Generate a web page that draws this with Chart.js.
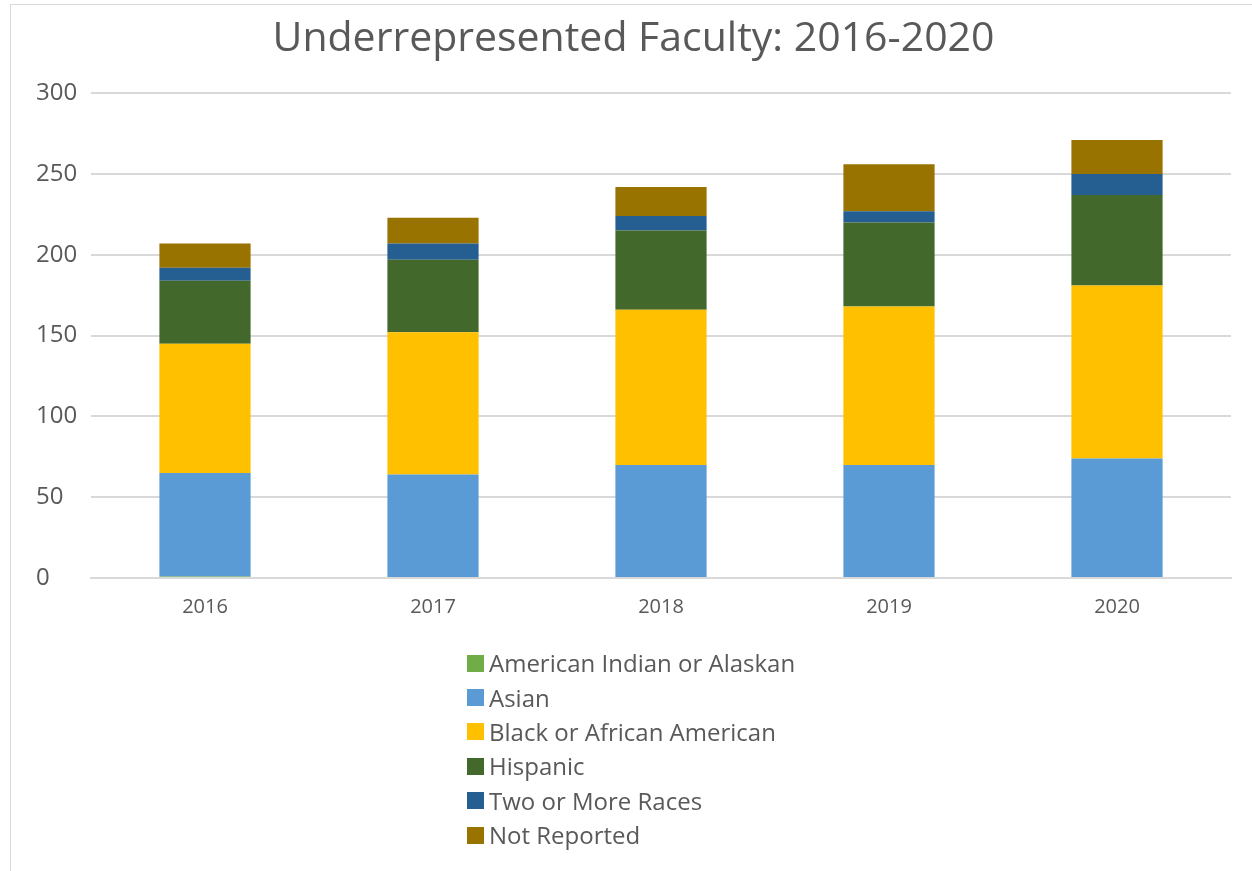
<!DOCTYPE html>
<html>
<head>
<meta charset="utf-8">
<script src="https://cdn.jsdelivr.net/npm/chart.js@4"></script>
<style>
  html, body { margin: 0; padding: 0; background: #fff; }
  #wrap { position: relative; width: 1252px; height: 871px; overflow: hidden; }
  #frame { position: absolute; left: 10px; top: 4px; width: 1260px; height: 900px; border: 1px solid #d9d9d9; }
  canvas { position: absolute; left: 0; top: 0; }
  #legend { position: absolute; left: 467px; top: 646px; font-family: "Open Sans", sans-serif; font-size: 24px; color: #595959; }
  #legend div { height: 34.4px; line-height: 28px; display: flex; align-items: center; }
  #legend span.box { display: inline-block; width: 17px; height: 17px; margin-right: 5px; }
</style>
</head>
<body>
<div id="wrap">
  <div id="frame"></div>
  <canvas id="myChart" width="1252" height="871"></canvas>
  <div id="legend"></div>
</div>
<script>
const years = ['2016', '2017', '2018', '2019', '2020'];
const seriesNames = ['American Indian or Alaskan', 'Asian', 'Black or African American', 'Hispanic', 'Two or More Races', 'Not Reported'];
const seriesColors = ['#70AD47', '#5B9BD5', '#FFC000', '#43682B', '#255E91', '#997300'];

const americanIndian = [1, 0, 0, 0, 0];
const asian = [64, 64, 70, 70, 74];
const black = [80, 88, 96, 98, 107];
const hispanic = [39, 45, 49, 52, 56];
const twoOrMore = [8, 10, 9, 7, 13];
const notReported = [15, 16, 18, 29, 21];

const yTicks = [0, 50, 100, 150, 200, 250, 300];

const seriesData = [americanIndian, asian, black, hispanic, twoOrMore, notReported];

const ctx = document.getElementById('myChart');

const myChart = new Chart(ctx, {
  type: 'bar',
  data: {
    labels: years,
    datasets: seriesNames.map((name, i) => ({
      label: name,
      data: seriesData[i],
      backgroundColor: seriesColors[i],
      borderWidth: 0,
      categoryPercentage: 1,
      barPercentage: 0.4
    }))
  },
  options: {
    responsive: false,
    animation: { duration: 0 },
    layout: {
      padding: { left: 36, right: 21, top: 0, bottom: 253 }
    },
    plugins: {
      legend: { display: false },
      tooltip: { enabled: false },
      title: {
        display: true,
        text: 'Underrepresented Faculty: 2016-2020',
        color: '#595959',
        font: { family: '"Open Sans", sans-serif', size: 41, weight: 'normal' },
        padding: { top: 15, bottom: 29 }
      }
    },
    scales: {
      x: {
        stacked: true,
        grid: { display: false, drawTicks: false },
        border: { display: true, color: '#d9d9d9', width: 2 },
        ticks: {
          color: '#595959',
          font: { family: '"Open Sans", sans-serif', size: 20 },
          padding: 17
        },
        afterFit: function (scale) { scale.height = 40; }
      },
      y: {
        stacked: true,
        min: 0,
        max: 300,
        afterBuildTicks: function (scale) {
          scale.ticks = yTicks.map(v => ({ value: v }));
        },
        grid: { color: '#d9d9d9', lineWidth: 2, drawTicks: false },
        border: { display: false },
        ticks: {
          color: '#595959',
          crossAlign: 'far',
          font: { family: '"Open Sans", sans-serif', size: 24 },
          padding: 10
        },
        afterFit: function (scale) { scale.width = 55; }
      }
    }
  }
});

// legend as a vertical list, like the original
const legendEl = document.getElementById('legend');
myChart.data.datasets.forEach(ds => {
  const row = document.createElement('div');
  const box = document.createElement('span');
  box.className = 'box';
  box.style.background = ds.backgroundColor;
  row.appendChild(box);
  row.appendChild(document.createTextNode(ds.label));
  legendEl.appendChild(row);
});
</script>
</body>
</html>
